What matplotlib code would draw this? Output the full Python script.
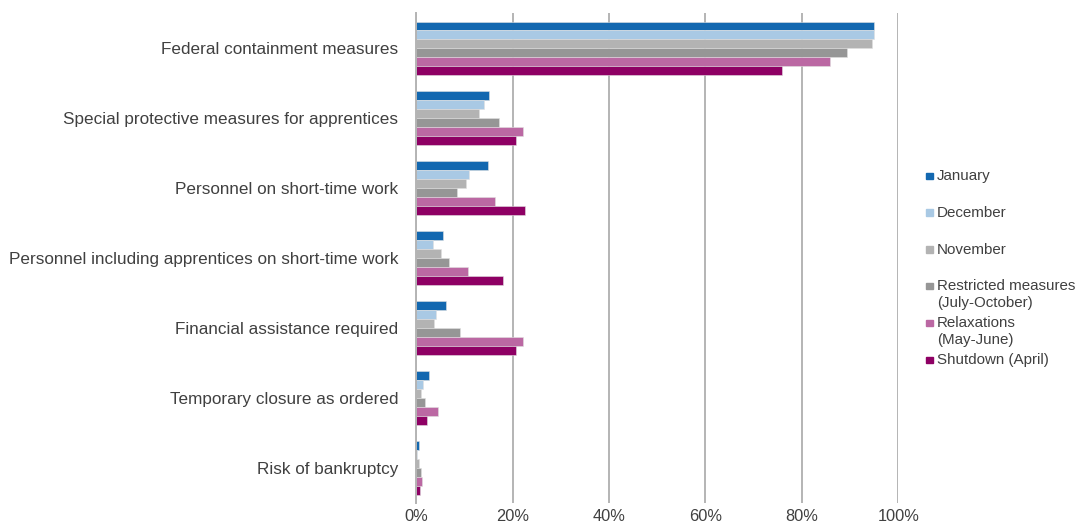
import matplotlib
matplotlib.use("Agg")
import matplotlib.pyplot as plt
import numpy as np
from matplotlib.patches import Rectangle
from matplotlib.ticker import PercentFormatter

categories = [
    "Federal containment measures",
    "Special protective measures for apprentices",
    "Personnel on short-time work",
    "Personnel including apprentices on short-time work",
    "Financial assistance required",
    "Temporary closure as ordered",
    "Risk of bankruptcy",
]
series_names = [
    "January",
    "December",
    "November",
    "Restricted measures\n(July-October)",
    "Relaxations\n(May-June)",
    "Shutdown (April)",
]
january = [94.9, 15.2, 14.8, 5.5, 6.2, 2.6, 0.55]
december = [94.9, 14.1, 10.9, 3.5, 4.2, 1.4, 0.1]
november = [94.6, 13.0, 10.3, 5.2, 3.7, 0.9, 0.5]
restricted = [89.4, 17.2, 8.4, 6.9, 9.1, 1.8, 0.9]
relaxations = [85.8, 22.2, 16.3, 10.7, 22.2, 4.5, 1.2]
shutdown = [75.8, 20.6, 22.5, 18.0, 20.6, 2.3, 0.8]
xticks = [0, 20, 40, 60, 80, 100]

series = [january, december, november, restricted, relaxations, shutdown]
colors = ["#1368b0", "#a9c9e4", "#b3b3b3", "#969696", "#bb68a3", "#8e0064"]
text_color = "#404040"

plt.rcParams["font.family"] = ["Liberation Sans", "DejaVu Sans"]

fig = plt.figure(figsize=(10.81, 5.27), dpi=100)
ax = fig.add_axes([0.385, 0.0455, 0.446, 0.9295])

n = len(categories)
y = np.arange(n)
h = 0.127
for i, (vals, c) in enumerate(zip(series, colors)):
    offs = (i - 2.5) * h
    ax.barh(y + offs, vals, height=h, color=c, edgecolor="#e0e0e0",
            linewidth=0.4, zorder=2)

ax.set_ylim(n - 0.5, -0.5)
ax.set_xlim(0, 100)
ax.set_yticks(y)
ax.set_yticklabels(categories, fontsize=12.3, color=text_color)
ax.set_xticks(xticks)
ax.xaxis.set_major_formatter(PercentFormatter(decimals=0))
ax.tick_params(axis="x", labelsize=11.8, colors=text_color, length=0, pad=4)
ax.tick_params(axis="y", length=0, pad=13)
ax.grid(axis="x", color="#b4b4b4", linewidth=1.4, zorder=1)
for s in ["top", "right", "bottom"]:
    ax.spines[s].set_visible(False)
ax.spines["left"].set_color("#b4b4b4")
ax.spines["left"].set_linewidth(1.4)

# legend drawn by hand: fixed slot per entry, two-line labels overflow
W, H = fig.get_size_inches() * fig.dpi
for i, (name, c) in enumerate(zip(series_names, colors)):
    yc = 176 + i * 36.8
    fig.patches.append(Rectangle((926 / W, 1 - (yc + 3) / H), 6.5 / W, 6.5 / H,
                                 transform=fig.transFigure, color=c))
    fig.text(937 / W, 1 - (yc - 7) / H, name, fontsize=10.9, color=text_color,
             va="top", ha="left", linespacing=1.25)

fig.savefig("out.png", dpi=100)
plt.close(fig)
